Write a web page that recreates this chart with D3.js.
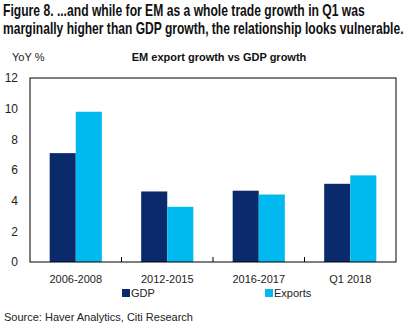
<!DOCTYPE html>
<html>
<head>
<meta charset="utf-8">
<script src="https://cdn.jsdelivr.net/npm/d3@7"></script>
<style>
  body { margin: 0; background: #fff; }
  text { font-family: "Liberation Sans", Arial, sans-serif; }
</style>
</head>
<body>
<div id="chart"></div>
<script>
// categories and series
var periods = ["2006-2008", "2012-2015", "2016-2017", "Q1 2018"];
var seriesNames = ["GDP", "Exports"];
var gdp = [7.1, 4.6, 4.65, 5.1];
var exportsGrowth = [9.8, 3.6, 4.4, 5.65];
var yTicks = [0, 2, 4, 6, 8, 10, 12];

var colors = { GDP: "#0b2a6b", Exports: "#00b9ef" };

var svgWidth = 410;
var svgHeight = 326;

var margin = { top: 78, right: 14, bottom: 64, left: 30 };
var width = svgWidth - margin.left - margin.right;
var height = svgHeight - margin.top - margin.bottom;

var svg = d3.select("#chart")
  .append("svg")
  .attr("width", svgWidth)
  .attr("height", svgHeight);

// headline, squeezed horizontally to a condensed look
var titleLines = [
  { text: "Figure 8. ...and while for EM as a whole trade growth in Q1 was", len: 362, y: 16 },
  { text: "marginally higher than GDP growth, the relationship looks vulnerable.", len: 401, y: 34 }
];
svg.selectAll("text.title")
  .data(titleLines)
  .enter()
  .append("text")
  .attr("class", "title")
  .attr("x", 0)
  .attr("y", 0)
  .style("font-weight", "bold")
  .style("font-size", "16px")
  .attr("fill", "#111")
  .text(d => d.text)
  .attr("transform", function(d) {
    var k = d.len / this.getComputedTextLength();
    return `translate(3, ${d.y}) scale(${k}, 1)`;
  });

svg.append("text")
  .attr("x", 12)
  .attr("y", 61)
  .style("font-size", "11px")
  .attr("fill", "#222")
  .text("YoY %");

svg.append("text")
  .attr("x", 219)
  .attr("y", 61)
  .attr("text-anchor", "middle")
  .style("font-size", "11px")
  .style("font-weight", "bold")
  .attr("fill", "#111")
  .text("EM export growth vs GDP growth");

var chartGroup = svg.append("g")
  .attr("transform", `translate(${margin.left}, ${margin.top})`);

// scales
var x0 = d3.scaleBand()
  .domain(periods)
  .range([0, width]);

var x1 = d3.scaleBand()
  .domain(seriesNames)
  .range([0, x0.bandwidth() * 0.57]);

var y = d3.scaleLinear()
  .domain([0, 12])
  .range([height, 0]);

var rows = periods.map(function(p, i) {
  return { period: p, values: [
    { name: "GDP", value: gdp[i] },
    { name: "Exports", value: exportsGrowth[i] }
  ] };
});

// bars
var groups = chartGroup.selectAll("g.group")
  .data(rows)
  .enter()
  .append("g")
  .attr("class", "group")
  .attr("transform", d => `translate(${x0(d.period) + (x0.bandwidth() - x1.range()[1]) / 2}, 0)`);

groups.selectAll("rect")
  .data(d => d.values)
  .enter()
  .append("rect")
  .attr("x", d => x1(d.name))
  .attr("y", d => y(d.value))
  .attr("width", x1.bandwidth())
  .attr("height", d => height - y(d.value))
  .attr("fill", d => colors[d.name]);

// frame
chartGroup.append("rect")
  .attr("width", width)
  .attr("height", height)
  .attr("fill", "none")
  .attr("stroke", "#000")
  .attr("stroke-width", 1);

// y axis labels
var yAxis = d3.axisLeft(y).tickValues(yTicks).tickSize(0).tickPadding(12);
chartGroup.append("g")
  .call(yAxis)
  .call(g => g.select(".domain").remove())
  .selectAll("text")
  .style("font-size", "12px")
  .attr("fill", "#222");

// x axis: ticks between categories pointing inward
var xAxis = d3.axisBottom(x0).tickSize(0).tickPadding(13);
var xg = chartGroup.append("g")
  .attr("transform", `translate(0, ${height})`)
  .call(xAxis);
xg.select(".domain").remove();
xg.selectAll("text").style("font-size", "11px").attr("fill", "#222");

chartGroup.selectAll("line.sep")
  .data(periods.slice(1))
  .enter()
  .append("line")
  .attr("class", "sep")
  .attr("x1", d => x0(d))
  .attr("x2", d => x0(d))
  .attr("y1", height)
  .attr("y2", height - 5)
  .attr("stroke", "#000");

// legend
var legendX = [122, 265];
var legend = svg.selectAll("g.legend")
  .data(seriesNames)
  .enter()
  .append("g")
  .attr("class", "legend")
  .attr("transform", (d, i) => `translate(${legendX[i]}, 289)`);

legend.append("rect")
  .attr("width", 8)
  .attr("height", 8)
  .attr("fill", d => colors[d]);

legend.append("text")
  .attr("x", 9)
  .attr("y", 8)
  .style("font-size", "11px")
  .attr("fill", "#222")
  .text(d => d);

svg.append("text")
  .attr("x", 4)
  .attr("y", 321)
  .style("font-size", "11px")
  .attr("fill", "#222")
  .text("Source: Haver Analytics, Citi Research");
</script>
</body>
</html>
